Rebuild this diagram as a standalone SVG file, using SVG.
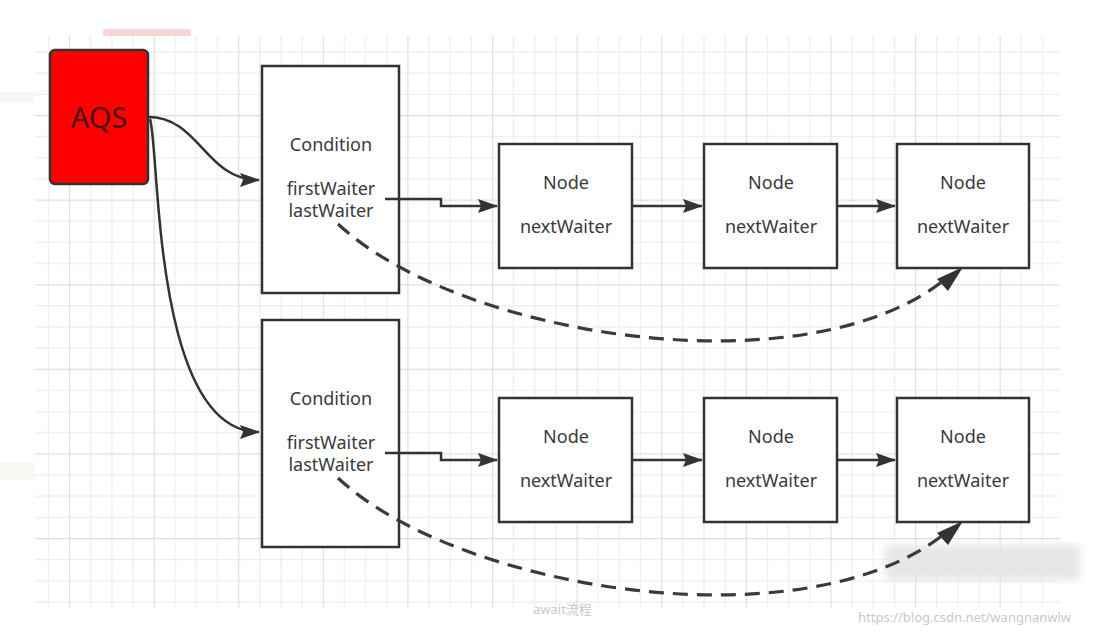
<svg xmlns="http://www.w3.org/2000/svg" width="1106" height="634" viewBox="0 0 1106 634">
<defs>
<pattern id="grid" patternUnits="userSpaceOnUse" x="69" y="115" width="84.6" height="84.6">
<path d="M0,0.5H84.6M0,21.65H84.6M0,42.8H84.6M0,63.95H84.6M0.5,0V84.6M21.65,0V84.6M42.8,0V84.6M63.95,0V84.6" fill="none" stroke="#e9e9e9" stroke-width="1"/>
<path d="M0,0.5H84.6M0.5,0V84.6" fill="none" stroke="#dedede" stroke-width="1.3"/>
</pattern>
<marker id="arr" viewBox="0 0 20 14" refX="19" refY="7" markerWidth="20" markerHeight="14" markerUnits="userSpaceOnUse" orient="auto">
<path d="M0,0L20,7L0,14L3,7Z" fill="#333"/>
</marker>
<filter id="blur"><feGaussianBlur stdDeviation="4"/></filter>
<style>
.box{fill:#fff;stroke:#333;stroke-width:2.5}
.t{font-family:"Noto Sans","Open Sans",sans-serif;font-size:18px;fill:#3a3a3a;text-anchor:middle}
.ln{fill:none;stroke:#333;stroke-width:2.5}
.dash{fill:none;stroke:#3a3a3a;stroke-width:3.2;stroke-dasharray:15 9}
.faint{font-family:"Noto Sans","Noto Sans CJK SC",sans-serif;font-size:13px;fill:#c8c8c8}
</style>
</defs>
<rect width="1106" height="634" fill="#fff"/>
<rect x="0" y="92" width="35" height="10" fill="#f7f7f4"/>
<rect x="0" y="462" width="35" height="18" fill="#f7f7f4"/>
<rect x="103" y="29" width="88" height="8" rx="3" fill="#f6d6d6"/>
<rect x="35" y="36" width="1025" height="572" fill="#fff"/>
<rect x="35" y="36" width="1025" height="572" fill="url(#grid)"/>
<rect x="885" y="545" width="195" height="35" fill="#e6e6e6" filter="url(#blur)"/>

<g id="aqs">
<rect x="50" y="50" width="98" height="134" rx="5" fill="#ff0000" stroke="#333" stroke-width="2.5"/>
<text x="99" y="128" text-anchor="middle" font-family="Noto Sans,Open Sans,sans-serif" font-size="29" fill="#4a1212">AQS</text>
</g>

<g id="condition1">
<rect class="box" x="262" y="66" width="137" height="227"/>
<text class="t" x="331" y="151">Condition</text>
<text class="t" x="331" y="195">firstWaiter</text>
<text class="t" x="331" y="217">lastWaiter</text>
</g>
<g id="condition2">
<rect class="box" x="262" y="320" width="137" height="227"/>
<text class="t" x="331" y="405">Condition</text>
<text class="t" x="331" y="449">firstWaiter</text>
<text class="t" x="331" y="471">lastWaiter</text>
</g>

<g id="node1a"><rect class="box" x="499" y="144" width="133" height="124"/><text class="t" x="566" y="189">Node</text><text class="t" x="566" y="233">nextWaiter</text></g>
<g id="node1b"><rect class="box" x="704" y="144" width="133" height="124"/><text class="t" x="771" y="189">Node</text><text class="t" x="771" y="233">nextWaiter</text></g>
<g id="node1c"><rect class="box" x="897" y="144" width="132" height="124"/><text class="t" x="963" y="189">Node</text><text class="t" x="963" y="233">nextWaiter</text></g>
<g id="node2a"><rect class="box" x="499" y="398" width="133" height="124"/><text class="t" x="566" y="443">Node</text><text class="t" x="566" y="487">nextWaiter</text></g>
<g id="node2b"><rect class="box" x="704" y="398" width="133" height="124"/><text class="t" x="771" y="443">Node</text><text class="t" x="771" y="487">nextWaiter</text></g>
<g id="node2c"><rect class="box" x="897" y="398" width="132" height="124"/><text class="t" x="963" y="443">Node</text><text class="t" x="963" y="487">nextWaiter</text></g>

<g id="connectors">
<path class="ln" d="M148,117 C200,117 205,180 259,180" marker-end="url(#arr)"/>
<path class="ln" d="M150,119 C160,150 152,432 259,432" marker-end="url(#arr)"/>
<path class="ln" d="M385,199H441V206H497" marker-end="url(#arr)"/>
<path class="ln" d="M632,206H702" marker-end="url(#arr)"/>
<path class="ln" d="M837,206H895" marker-end="url(#arr)"/>
<path class="ln" d="M385,453H441V460H497" marker-end="url(#arr)"/>
<path class="ln" d="M632,460H702" marker-end="url(#arr)"/>
<path class="ln" d="M837,460H895" marker-end="url(#arr)"/>
<path class="dash" d="M338,224 C460,338 810,392 948,277"/>
<path d="M963,267 L937,279 L948,291 Z" fill="#333"/>
<path class="dash" d="M338,478 C460,592 810,646 948,531"/>
<path d="M963,521 L937,533 L948,545 Z" fill="#333"/>
</g>

<text class="faint" x="533" y="614" font-size="15" fill="#d4d4d4">await流程</text>
<text class="faint" x="858" y="622" font-size="15">https://blog.csdn.net/wangnanwlw</text>
</svg>
